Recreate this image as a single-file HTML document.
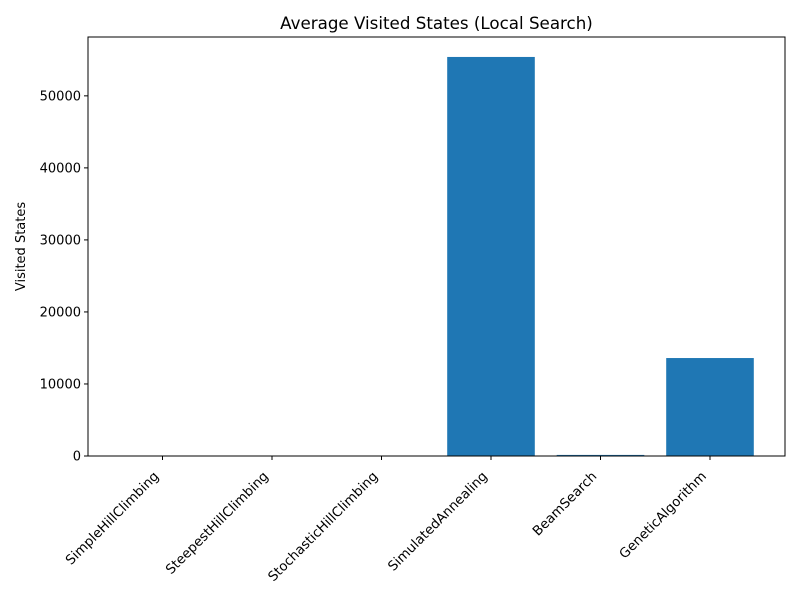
<!DOCTYPE html>
<html><head><meta charset="utf-8"><style>
body{margin:0;background:#fff;font-family:"Liberation Sans","DejaVu Sans",sans-serif;}
text{font-family:"DejaVu Sans","Liberation Sans",sans-serif;}
</style></head><body>
<svg id="chart" width="800" height="600" xmlns="http://www.w3.org/2000/svg">
<rect width="800" height="600" fill="#fff"/>
<text x="436.5" y="29" font-size="16.7" text-anchor="middle">Average Visited States (Local Search)</text>
<text transform="translate(25,246.5) rotate(-90)" font-size="13" text-anchor="middle">Visited States</text>
<g id="bars"></g><g id="yticks"></g><g id="xticks"></g>
<rect x="88" y="37" width="697" height="419" fill="none" stroke="#000" stroke-width="1"/>
</svg>
<script>
const categories=["SimpleHillClimbing","SteepestHillClimbing","StochasticHillClimbing","SimulatedAnnealing","BeamSearch","GeneticAlgorithm"];
const values=[10,10,10,55400,150,13600];
const yTicks=[0,10000,20000,30000,40000,50000];
const ns="http://www.w3.org/2000/svg";
const L=88,R=785,T=37,B=456;
const yMax=58170;
const y=v=>B-(v/yMax)*(B-T);
const step=109.5, x0=162.5;
const x=i=>x0+i*step;
const bw=0.8*step;
const bars=document.getElementById('bars'),yt=document.getElementById('yticks'),xt=document.getElementById('xticks');
values.forEach((v,i)=>{
 const r=document.createElementNS(ns,'rect');
 r.setAttribute('x',x(i)-bw/2);r.setAttribute('y',y(v));r.setAttribute('width',bw);r.setAttribute('height',B-y(v));r.setAttribute('fill','#1f77b4');
 
 
 bars.appendChild(r);
 const t=document.createElementNS(ns,'line');
 t.setAttribute('x1',x(i));t.setAttribute('x2',x(i));t.setAttribute('y1',B);t.setAttribute('y2',B+4);t.setAttribute('stroke','#000');
 
 
 xt.appendChild(t);
 const lb=document.createElementNS(ns,'text');
 lb.setAttribute('font-size','13.3');lb.setAttribute('text-anchor','end');
 lb.setAttribute('transform','translate('+(x(i)-3)+','+(B+21)+') rotate(-45)');
 lb.textContent=categories[i];
 
 
 xt.appendChild(lb);
});
yTicks.forEach(v=>{
 const t=document.createElementNS(ns,'line');
 t.setAttribute('x1',L-4);t.setAttribute('x2',L);t.setAttribute('y1',y(v));t.setAttribute('y2',y(v));t.setAttribute('stroke','#000');
 
 
 yt.appendChild(t);
 const lb=document.createElementNS(ns,'text');
 lb.setAttribute('x',L-7);lb.setAttribute('y',y(v)+4.5);lb.setAttribute('font-size','13');lb.setAttribute('text-anchor','end');
 lb.textContent=v;
 
 
 yt.appendChild(lb);
});
</script>
</body></html>
